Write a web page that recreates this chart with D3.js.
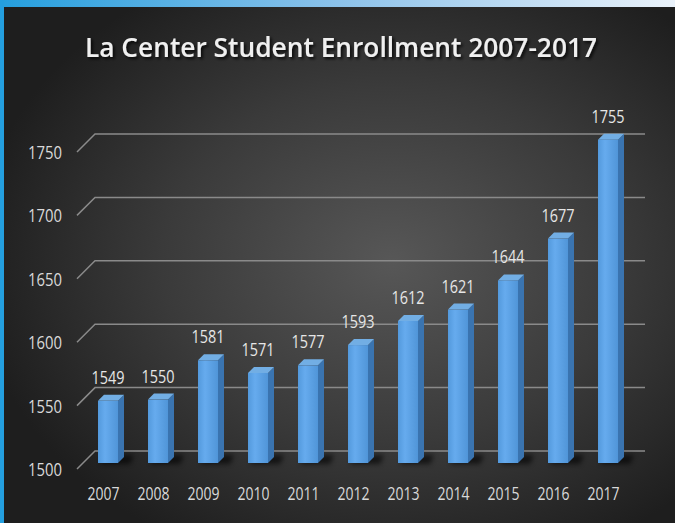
<!DOCTYPE html>
<html>
<head>
<meta charset="utf-8">
<script src="https://cdn.jsdelivr.net/npm/d3@7"></script>
<style>
  html, body { margin: 0; padding: 0; background: #2a2a2a; overflow: hidden; }
  svg { display: block; }
</style>
</head>
<body>
<svg id="chart"></svg>
<script>
// chart data
const years = ["2007", "2008", "2009", "2010", "2011", "2012", "2013", "2014", "2015", "2016", "2017"];
const enrollment = [1549, 1550, 1581, 1571, 1577, 1593, 1612, 1621, 1644, 1677, 1755];
const yTicks = [1500, 1550, 1600, 1650, 1700, 1750];
const chartTitle = "La Center Student Enrollment 2007-2017";

const WIDTH = 675;
const HEIGHT = 523;
const FLOOR_DEPTH = 18;   // depth of the floor (px along the diagonal)
const BAR_FRONT = 12;     // depth of the bar front face
const BAR_DEPTH = 6;      // thickness of the bar

const svg = d3.select("#chart").attr("width", WIDTH).attr("height", HEIGHT);
const defs = svg.append("defs");

// background + blue frame
const bg = defs.append("radialGradient").attr("id", "bg")
  .attr("cx", "0.58").attr("cy", "0.5").attr("r", "0.62");
bg.append("stop").attr("offset", "0").attr("stop-color", "#575757");
bg.append("stop").attr("offset", "0.55").attr("stop-color", "#3a3a3a");
bg.append("stop").attr("offset", "1").attr("stop-color", "#1e1e1e");

const topBlue = defs.append("linearGradient").attr("id", "topBlue");
topBlue.append("stop").attr("offset", "0").attr("stop-color", "#259fde");
topBlue.append("stop").attr("offset", "0.5").attr("stop-color", "#8cc2ea");
topBlue.append("stop").attr("offset", "1").attr("stop-color", "#eaf2fa");

const front = defs.append("linearGradient").attr("id", "barFront");
front.append("stop").attr("offset", "0").attr("stop-color", "#5399dc");
front.append("stop").attr("offset", "0.35").attr("stop-color", "#66abee");
front.append("stop").attr("offset", "1").attr("stop-color", "#5095d8");

const shadowBlur = defs.append("filter").attr("id", "shadowBlur")
  .attr("x", "-50%").attr("y", "-50%").attr("width", "200%").attr("height", "200%");
shadowBlur.append("feGaussianBlur").attr("stdDeviation", 2.5);

const titleShadow = defs.append("filter").attr("id", "titleShadow")
  .attr("x", "-10%").attr("y", "-50%").attr("width", "120%").attr("height", "200%");
titleShadow.append("feDropShadow").attr("dx", 2).attr("dy", 2)
  .attr("stdDeviation", 1.5).attr("flood-color", "#000").attr("flood-opacity", 0.8);

svg.append("rect").attr("x", 0).attr("y", 0).attr("width", WIDTH).attr("height", HEIGHT)
  .attr("fill", "url(#bg)");
svg.append("rect").attr("x", 0).attr("y", 0).attr("width", WIDTH).attr("height", 7)
  .attr("fill", "url(#topBlue)");
svg.append("rect").attr("x", 0).attr("y", 0).attr("width", 4).attr("height", HEIGHT)
  .attr("fill", "#249fdf");

// scales on the back wall
const x = d3.scaleBand().domain(years).range([95, 645])
  .paddingInner(0.6).paddingOuter(0.3);
const y = d3.scaleLinear().domain([1500, 1750]).range([451, 134]);

// title
svg.append("text")
  .attr("x", 341).attr("y", 57)
  .attr("text-anchor", "middle")
  .attr("textLength", 512).attr("lengthAdjust", "spacingAndGlyphs")
  .attr("font-family", "Open Sans, sans-serif")
  .attr("font-weight", 600).attr("font-size", 27)
  .attr("fill", "#f0f0f0")
  .attr("filter", "url(#titleShadow)")
  .text(chartTitle);

// gridlines: back wall line + floor diagonal
const grid = svg.append("g").attr("class", "grid");
grid.selectAll("path").data(yTicks).enter().append("path")
  .attr("d", d => "M" + (95 - FLOOR_DEPTH) + "," + (y(d) + FLOOR_DEPTH) +
    "L95," + y(d) + "L645," + y(d))
  .attr("fill", "none")
  .attr("stroke", "#8a8a8a")
  .attr("stroke-width", 1.5);

// y labels
svg.append("g").selectAll("text").data(yTicks).enter().append("text")
  .attr("x", 45).attr("y", d => y(d) + FLOOR_DEPTH + 7)
  .attr("text-anchor", "middle")
  .attr("textLength", 34).attr("lengthAdjust", "spacingAndGlyphs")
  .attr("font-family", "Open Sans, sans-serif").attr("font-size", 18)
  .attr("fill", "#d9d9d9")
  .text(d => d);

// bars
const data = years.map((yr, i) => ({ year: yr, value: enrollment[i] }));
const bw = x.bandwidth();
const bars = svg.append("g").attr("class", "bars");

function barGeom(d) {
  const x0 = x(d.year) - BAR_FRONT;
  const x1 = x0 + bw;
  const yTop = y(d.value) + BAR_FRONT;
  const yBot = y(1500) + BAR_FRONT;
  return { x0, x1, yTop, yBot };
}

// shadows on the floor
bars.selectAll(".shadow").data(data).enter().append("path")
  .attr("class", "shadow")
  .attr("d", d => {
    const g = barGeom(d);
    return "M" + (g.x0 + 2) + "," + (g.yBot + 1) +
      "L" + (g.x1 + 12) + "," + (g.yBot + 1) +
      "L" + (g.x1 + 16) + "," + (g.yBot - 8) +
      "L" + (g.x0 + 8) + "," + (g.yBot - 8) + "Z";
  })
  .attr("fill", "#000").attr("opacity", 0.6)
  .attr("filter", "url(#shadowBlur)");

const bar = bars.selectAll(".bar").data(data).enter().append("g").attr("class", "bar");

bar.append("path")
  .attr("d", d => {
    const g = barGeom(d);
    return "M" + g.x1 + "," + g.yTop +
      "L" + (g.x1 + BAR_DEPTH) + "," + (g.yTop - BAR_DEPTH) +
      "L" + (g.x1 + BAR_DEPTH) + "," + (g.yBot - BAR_DEPTH) +
      "L" + g.x1 + "," + g.yBot + "Z";
  })
  .attr("fill", "#3a74b0");

bar.append("path")
  .attr("d", d => {
    const g = barGeom(d);
    return "M" + g.x0 + "," + g.yTop +
      "L" + (g.x0 + BAR_DEPTH) + "," + (g.yTop - BAR_DEPTH) +
      "L" + (g.x1 + BAR_DEPTH) + "," + (g.yTop - BAR_DEPTH) +
      "L" + g.x1 + "," + g.yTop + "Z";
  })
  .attr("fill", "#72aee4");

bar.append("rect")
  .attr("x", d => barGeom(d).x0)
  .attr("y", d => barGeom(d).yTop)
  .attr("width", bw)
  .attr("height", d => barGeom(d).yBot - barGeom(d).yTop)
  .attr("fill", "url(#barFront)");

// value labels
svg.append("g").selectAll("text").data(data).enter().append("text")
  .attr("x", d => barGeom(d).x0 + bw / 2)
  .attr("y", d => barGeom(d).yTop - BAR_DEPTH - 11)
  .attr("text-anchor", "middle")
  .attr("textLength", 33).attr("lengthAdjust", "spacingAndGlyphs")
  .attr("font-family", "Open Sans, sans-serif").attr("font-size", 18)
  .attr("fill", "#e6e6e6")
  .text(d => d.value);

// year labels
svg.append("g").selectAll("text").data(data).enter().append("text")
  .attr("x", d => barGeom(d).x0 + bw / 2 - 4.5)
  .attr("y", 500)
  .attr("text-anchor", "middle")
  .attr("textLength", 32).attr("lengthAdjust", "spacingAndGlyphs")
  .attr("font-family", "Open Sans, sans-serif").attr("font-size", 18)
  .attr("fill", "#d9d9d9")
  .text(d => d.year);
</script>
</body>
</html>
